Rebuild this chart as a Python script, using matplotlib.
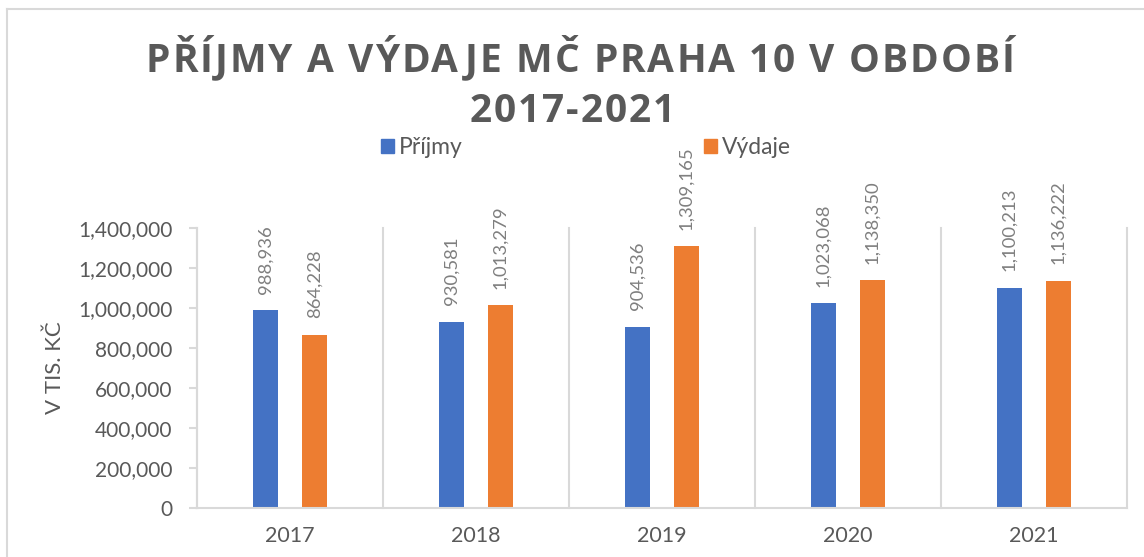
import numpy as np
import matplotlib
matplotlib.use('Agg')
import matplotlib.pyplot as plt
from matplotlib.lines import Line2D
from matplotlib.patches import Patch
from matplotlib.ticker import FuncFormatter, MultipleLocator

# data (v tis. Kč)
years = ['2017', '2018', '2019', '2020', '2021']
prijmy = [988936, 930581, 904536, 1023068, 1100213]
vydaje = [864228, 1013279, 1309165, 1138350, 1136222]
series_names = ['Příjmy', 'Výdaje']
title_lines = ['PŘÍJMY A VÝDAJE MČ PRAHA 10 V OBDOBÍ', '2017-2021']
ylabel = 'V TIS. KČ'

BLUE, ORANGE = '#4472C4', '#ED7D31'
GRID = '#d9d9d9'
TXT = '#595959'

plt.rcParams['font.family'] = ['Lato', 'DejaVu Sans']

W, H = 1144, 557
fig = plt.figure(figsize=(W / 100, H / 100), dpi=100)
ax = fig.add_axes([197 / W, 1 - 508 / H, 930 / W, 280 / H])


def spaced_text(s, xc, y, spacing, **kw):
    # draw a string with extra letter spacing (pixels), centred on xc (pixels)
    r = fig.canvas.get_renderer()

    def width(t):
        tt = fig.text(0, 0, t, **kw)
        w = tt.get_window_extent(r).width
        tt.remove()
        return w

    total = width(s) + spacing * (len(s) - 1)
    x0 = xc - total / 2
    for i, c in enumerate(s):
        if c == ' ':
            continue
        ink_left = width(s[:i + 1]) - width(c)
        fig.text((x0 + ink_left + i * spacing) / W, 1 - y / H, c,
                 ha='left', va='baseline', **kw)


x = np.arange(len(years))
bw = 0.134
off = 0.132
b1 = ax.bar(x - off, prijmy, bw, color=BLUE, zorder=2)
b2 = ax.bar(x + off, vydaje, bw, color=ORANGE, zorder=2)

for bars, vals in [(b1, prijmy), (b2, vydaje)]:
    for rect, v in zip(bars, vals):
        ax.annotate(f'{v:,}', (rect.get_x() + rect.get_width() / 2, v),
                    xytext=(0, 12), textcoords='offset points', rotation=90,
                    ha='center', va='bottom', fontsize=13.3, color='#7f7f7f')

ax.set_xlim(-0.5, len(years) - 0.5)
ax.set_ylim(0, 1400000)
ax.yaxis.set_major_locator(MultipleLocator(200000))
ax.yaxis.set_major_formatter(FuncFormatter(lambda v, p: f'{v:,.0f}'))
ax.set_xticks(x, years)
ax.tick_params(axis='x', length=0, pad=13, labelsize=15.5, labelcolor=TXT)
ax.tick_params(axis='y', length=6, width=1.5, color=GRID, labelsize=15,
               labelcolor=TXT, pad=11.5)

for s in ['top', 'right']:
    ax.spines[s].set_visible(False)
for s in ['left', 'bottom']:
    ax.spines[s].set_color(GRID)
    ax.spines[s].set_linewidth(1.5)

for b in np.arange(-0.5, len(years)):
    ax.axvline(b, color=GRID, lw=1.5, zorder=0, clip_on=False)

fig.text(55 / W, 1 - 368 / H, ylabel, rotation=90, ha='center', va='center',
         fontsize=16, color=TXT)

fig.legend(handles=[Patch(color=BLUE), Patch(color=ORANGE)], labels=series_names,
           loc='center', bbox_to_anchor=(586 / W, 1 - 148 / H), ncol=2,
           frameon=False, fontsize=16.5, handlelength=0.57, handleheight=0.57,
           handletextpad=0.22, columnspacing=10.5, labelcolor=TXT)

spaced_text(title_lines[0], 580, 71.5, 2, fontsize=28, fontweight='bold',
            color=TXT, family=['Open Sans', 'DejaVu Sans'])
spaced_text(title_lines[1], 572, 121.5, 2, fontsize=28, fontweight='bold',
            color=TXT, family=['Open Sans', 'DejaVu Sans'])

# chart frame (top and left edges visible in the crop)
fig.add_artist(Line2D([7 / W, 1], [1 - 9 / H, 1 - 9 / H], color=GRID, lw=1.5))
fig.add_artist(Line2D([7 / W, 7 / W], [0, 1 - 9 / H], color=GRID, lw=1.5))

fig.savefig('out.png', dpi=100)
